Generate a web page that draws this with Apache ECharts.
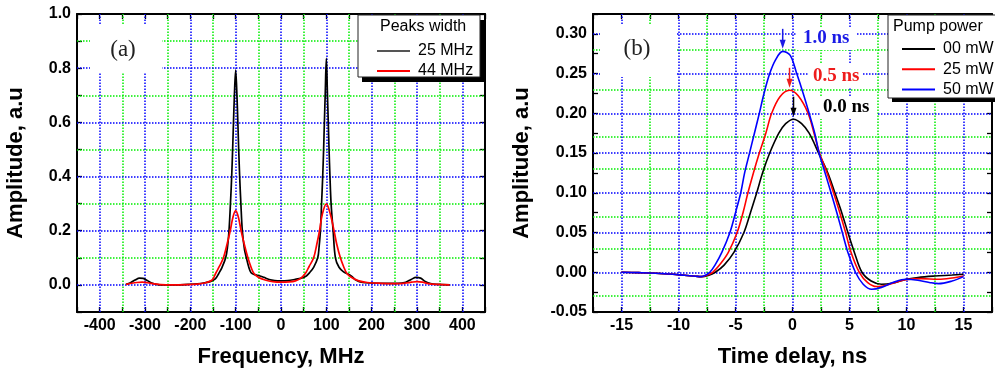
<!DOCTYPE html>
<html><head><meta charset="utf-8">
<script src="https://cdn.jsdelivr.net/npm/echarts@6/dist/echarts.min.js"></script>
<style>html,body{margin:0;padding:0;background:#fff}#c{width:995px;height:374px}</style>
</head><body><div id="c"></div>
<script>
// ---------- Data ----------
// Panel (a): Frequency (MHz) vs Amplitude
const peaksNames = ['25 MHz', '44 MHz'];
const spec25 = [[-342,0.002],[-332,0.008],[-322,0.018],[-312,0.025],[-304,0.024],[-295,0.016],[-285,0.007],[-275,0.002],[-260,0.0],[-230,0.0],[-205,0.002],[-185,0.004],[-168,0.008],[-155,0.013],[-145,0.022],[-137,0.043],[-130,0.065],[-122,0.1],[-118,0.14],[-114.7,0.2],[-111.5,0.3],[-108.8,0.4],[-106.7,0.5],[-104.8,0.6],[-102.8,0.7],[-100,0.793],[-97.2,0.7],[-95.2,0.6],[-93.3,0.5],[-91.2,0.4],[-88.5,0.3],[-85.3,0.2],[-80.5,0.13],[-76.4,0.1],[-71,0.065],[-66,0.045],[-58,0.038],[-48,0.034],[-38,0.028],[-26,0.02],[-14,0.016],[0,0.015],[15,0.016],[30,0.02],[45,0.025],[55,0.032],[63,0.045],[72,0.065],[81,0.1],[84,0.14],[87,0.2],[89.5,0.3],[92,0.4],[94,0.5],[95.7,0.6],[97.5,0.7],[100,0.836],[102.5,0.7],[104.3,0.6],[106,0.5],[108,0.4],[110.5,0.3],[115,0.2],[120,0.1],[128,0.065],[138,0.048],[148,0.04],[157,0.03],[166,0.017],[180,0.009],[200,0.007],[230,0.006],[258,0.006],[275,0.01],[287,0.02],[298,0.028],[308,0.025],[318,0.013],[330,0.005],[345,0.002],[372,0.0]];
const spec44 = [[-342,0.002],[-330,0.006],[-318,0.009],[-306,0.01],[-294,0.008],[-280,0.004],[-265,0.001],[-240,0.0],[-210,0.001],[-185,0.003],[-168,0.007],[-156,0.014],[-150,0.022],[-144,0.043],[-136,0.068],[-127,0.1],[-119,0.15],[-112,0.2],[-106,0.25],[-100,0.274],[-94,0.25],[-88,0.2],[-81,0.15],[-73,0.1],[-66,0.065],[-60,0.043],[-50,0.028],[-35,0.018],[-18,0.012],[0,0.01],[18,0.011],[32,0.015],[44,0.025],[54,0.043],[62,0.068],[72,0.1],[79,0.15],[85,0.2],[91,0.26],[100,0.299],[109,0.26],[117,0.2],[123,0.15],[131,0.1],[138,0.068],[145,0.043],[155,0.028],[170,0.016],[190,0.009],[220,0.006],[255,0.005],[275,0.007],[288,0.01],[300,0.012],[312,0.01],[325,0.005],[345,0.002],[372,0.0]];

// Panel (b): Time delay (ns) vs Amplitude
const pumpNames = ['00 mW', '25 mW', '50 mW'];
const pulse00 = [[-15,0],[-13.5,-0.0005],[-12,-0.0012],[-10.5,-0.0025],[-9.5,-0.0038],[-8.5,-0.005],[-8,-0.0055],[-7.4,-0.004],[-6.77,0.0],[-6.0,0.009],[-5.14,0.025],[-4.26,0.05],[-3.69,0.075],[-3.14,0.10],[-2.63,0.125],[-2.0,0.15],[-1.2,0.175],[-0.6,0.187],[0.09,0.1926],[0.8,0.187],[1.46,0.175],[2.29,0.15],[3.1,0.125],[3.72,0.10],[4.32,0.075],[4.86,0.05],[5.43,0.025],[6.09,0.0],[6.9,-0.011],[7.8,-0.015],[8.8,-0.0135],[9.9,-0.009],[11,-0.0065],[12.5,-0.0047],[14,-0.0035],[15,-0.0025]];
const pulse25 = [[-15,0],[-13.5,-0.0005],[-12,-0.0012],[-10.5,-0.0025],[-9.5,-0.0038],[-8.5,-0.005],[-8,-0.0055],[-7.5,-0.0035],[-7.0,0.0],[-6.3,0.011],[-5.63,0.025],[-4.86,0.05],[-4.34,0.075],[-3.91,0.10],[-3.43,0.125],[-2.91,0.15],[-2.34,0.175],[-1.83,0.20],[-1.1,0.221],[-0.26,0.229],[0.5,0.222],[1.37,0.20],[1.89,0.175],[2.37,0.15],[3.03,0.125],[3.6,0.10],[4.15,0.075],[4.66,0.05],[5.14,0.025],[5.86,0.0],[6.6,-0.013],[7.37,-0.018],[8.3,-0.016],[9.9,-0.0095],[11.3,-0.008],[12.8,-0.0088],[14,-0.0072],[15,-0.0047]];
const pulse50 = [[-15,0],[-13.5,-0.0005],[-12,-0.0012],[-10.5,-0.0025],[-9.5,-0.0038],[-8.5,-0.005],[-8,-0.0055],[-7.6,-0.0035],[-7.25,0.0],[-6.8,0.009],[-6.2,0.025],[-5.49,0.05],[-5.0,0.075],[-4.54,0.10],[-4.2,0.125],[-3.77,0.15],[-3.34,0.175],[-2.91,0.20],[-2.5,0.225],[-2.0,0.25],[-1.5,0.267],[-0.86,0.278],[-0.2,0.273],[0.37,0.25],[0.94,0.225],[1.46,0.20],[1.95,0.175],[2.33,0.15],[2.86,0.125],[3.38,0.10],[3.89,0.075],[4.37,0.05],[4.86,0.025],[5.52,0.0],[6.2,-0.015],[6.95,-0.0214],[7.8,-0.019],[8.8,-0.013],[9.94,-0.0088],[11,-0.010],[12,-0.0128],[12.8,-0.0143],[14,-0.011],[15,-0.0055]];

// Peak-shift annotations in panel (b)
const shiftLabels = ['1.0 ns', '0.5 ns', '0.0 ns'];
const shiftPeakT = [-0.86, -0.26, 0.09];
const shiftPeakA = [0.278, 0.229, 0.1926];

// Grid-line positions (major = blue, minor = green), axis values
function steps(a, b, s) { const r = []; for (let k = 0; a + k * s <= b + 1e-9; k++) r.push(+(a + k * s).toFixed(4)); return r; }
const gridAXMajor = steps(-400, 400, 100), gridAXMinor = steps(-350, 350, 100);
const gridAYMajor = steps(0, 0.8, 0.2), gridAYMinor = steps(0.1, 0.9, 0.2);
const gridBXMajor = steps(-15, 15, 5), gridBXMinor = steps(-12.5, 12.5, 5);
const gridBYMajor = steps(0, 0.30, 0.05), gridBYMinor = steps(-0.025, 0.275, 0.05);

// ---------- Styling ----------
const SANS = '"Liberation Sans", Arial, sans-serif';
const SERIF = '"Liberation Serif", "Times New Roman", serif';
const GREEN = '#00ee00', BLUE = '#0000ff';

function baseAxis(gridIndex, min, max, interval, position, labelFn, extra) {
  const ax = {
    type: 'value', gridIndex, min, max, interval, position,
    axisLine: { show: true, onZero: false, lineStyle: { color: '#000', width: 2 } },
    axisTick: { show: true, inside: true, length: 5, lineStyle: { color: '#000', width: 1.3 } },
    axisLabel: labelFn ? { show: true, formatter: labelFn, fontFamily: SANS, fontWeight: 'bold', fontSize: 16, color: '#000', margin: 6, showMinLabel: true, showMaxLabel: true, hideOverlap: false } : { show: false },
    splitLine: { show: false }
  };
  return Object.assign(ax, extra || {});
}
const nameStyle = { fontFamily: SANS, fontWeight: 'bold', fontSize: 22, color: '#000' };

const fmtFreq = v => (Math.round(v) % 100 === 0 ? String(Math.round(v)) : '');
const fmtAmpA = v => { const n = Math.round(v * 10); return (n % 2 === 0 && n >= 0) ? (n / 10).toFixed(1) : ''; };
const fmtTime = v => { const n = Math.round(v * 2); return (n % 10 === 0) ? String(n / 2) : ''; };
const fmtAmpB = v => { const n = Math.round(v * 40); return (n % 2 === 0) ? (n / 40).toFixed(2) : ''; };

const chart = echarts.init(document.getElementById('c'), null, { renderer: 'canvas' });

const lineSeries = (name, data, color, xi, yi, w) => ({
  name, type: 'line', data, xAxisIndex: xi, yAxisIndex: yi,
  showSymbol: false, symbol: 'none', smooth: 0.35, color,
  itemStyle: { color }, lineStyle: { color, width: w }, z: 3, silent: true
});
const gridSeries = (xi, yi, xs, ys, color) => ({
  type: 'line', data: [], xAxisIndex: xi, yAxisIndex: yi, z: 1, silent: true, color,
  itemStyle: { color },
  markLine: {
    z: 1, zlevel: 0,
    silent: true, animation: false, symbol: ['none', 'none'], label: { show: false },
    itemStyle: { color },
    lineStyle: { color, type: [1.5, 1.5], width: 1.5, opacity: 1 },
    emphasis: { disabled: true },
    data: xs.map(v => ({ xAxis: v, lineStyle: { color } })).concat(ys.map(v => ({ yAxis: v, lineStyle: { color } })))
  }
});

const option = {
  animation: false,
  backgroundColor: '#fff',
  grid: [
    { left: 77, top: 14, width: 408, height: 298 },
    { left: 593, top: 14, width: 408, height: 298 }
  ],
  xAxis: [
    baseAxis(0, -450, 450, 50, 'bottom', fmtFreq, { name: 'Frequency, MHz', nameLocation: 'middle', nameGap: 34, nameTextStyle: nameStyle }),
    baseAxis(0, -450, 450, 50, 'top', null),
    baseAxis(1, -17.5, 17.5, 2.5, 'bottom', fmtTime, { name: 'Time delay, ns', nameLocation: 'middle', nameGap: 34, nameTextStyle: nameStyle }),
    baseAxis(1, -17.5, 17.5, 2.5, 'top', null)
  ],
  yAxis: [
    baseAxis(0, -0.1, 1.0, 0.1, 'left', fmtAmpA, { name: 'Amplitude, a.u', nameLocation: 'middle', nameGap: 50, nameTextStyle: nameStyle }),
    baseAxis(0, -0.1, 1.0, 0.1, 'right', null),
    baseAxis(1, -0.05, 0.325, 0.025, 'left', fmtAmpB, { name: 'Amplitude, a.u', nameLocation: 'middle', nameGap: 60, nameTextStyle: nameStyle }),
    baseAxis(1, -0.05, 0.325, 0.025, 'right', null)
  ],
  legend: [
    { data: [{ name: peaksNames[0], itemStyle: { color: '#555' } }, peaksNames[1]], orient: 'vertical', left: 372, top: 38, itemWidth: 33, itemHeight: 2, icon: 'rect', itemGap: 4, selectedMode: false, z: 8,
      textStyle: { fontFamily: SANS, fontSize: 16, color: '#000', lineHeight: 16, padding: [0, 0, 0, 3] } },
    { data: pumpNames, orient: 'vertical', left: 897, top: 36, itemWidth: 33, itemHeight: 2, icon: 'rect', itemGap: 4.3, selectedMode: false, z: 8,
      textStyle: { fontFamily: SANS, fontSize: 16, color: '#000', lineHeight: 16, padding: [0, 0, 0, 3] } }
  ],
  series: [
    gridSeries(0, 0, gridAXMinor, gridAYMinor, GREEN),
    gridSeries(0, 0, gridAXMajor, gridAYMajor, BLUE),
    gridSeries(2, 2, gridBXMinor, gridBYMinor, GREEN),
    gridSeries(2, 2, gridBXMajor, gridBYMajor, BLUE),
    lineSeries(peaksNames[0], spec25, '#000', 0, 0, 1.7),
    lineSeries(peaksNames[1], spec44, '#ff0000', 0, 0, 1.7),
    lineSeries(pumpNames[0], pulse00, '#000', 2, 2, 1.6),
    lineSeries(pumpNames[1], pulse25, '#ff0000', 2, 2, 1.6),
    lineSeries(pumpNames[2], pulse50, '#0000ff', 2, 2, 1.6)
  ]
};
chart.setOption(option);

// ---------- Decorations (legend boxes, panel labels, arrows) ----------
const g = [];
function rect(x, y, w, h, fill, stroke, z) {
  g.push({ type: 'rect', shape: { x, y, width: w, height: h }, style: { fill, stroke: stroke || null, lineWidth: stroke ? 1 : 0 }, z, silent: true });
}
function text(x, y, str, font, color, align, z) {
  g.push({ type: 'text', x, y, style: { text: str, font, fill: color, align: align || 'left', verticalAlign: 'middle' }, z: z || 7, silent: true });
}
// legend (a)
rect(362, 20, 122, 62, '#000', null, 5);
rect(358, 15, 122, 62, '#fff', '#222', 6);
text(380, 27, 'Peaks width', '16px ' + SANS, '#000');
// legend (b)
rect(892, 20, 120, 82, '#000', null, 5);
rect(888, 15, 120, 83, '#fff', '#222', 6);
text(893, 27, 'Pump power', '16px ' + SANS, '#000');
// panel labels
rect(90, 25, 72, 48, '#fff', null, 2);
text(123, 50, '(a)', '23px ' + SERIF, '#222', 'center');
rect(600, 25, 76, 52, '#fff', null, 2);
text(637, 49, '(b)', '23px ' + SERIF, '#222', 'center');
// shift annotations
const annColors = ['#1a1ae6', '#ee1c1c', '#000'];
const annBoxes = [[797, 27, 60, 23], [808, 64, 54, 24], [820, 96, 57, 23]];
const annText = [[803, 38], [813, 76], [823, 107]];
for (let i = 0; i < shiftLabels.length; i++) {
  const b = annBoxes[i];
  rect(b[0], b[1], b[2], b[3], '#fff', null, 2);
  text(annText[i][0], annText[i][1], shiftLabels[i], 'bold 19px ' + SERIF, annColors[i]);
  const p = chart.convertToPixel({ seriesIndex: 6 }, [shiftPeakT[i], shiftPeakA[i]]);
  const tipY = p[1] - 2.5, x = p[0];
  g.push({ type: 'line', shape: { x1: x, y1: tipY - 20, x2: x, y2: tipY - 6 }, style: { stroke: annColors[i], lineWidth: 1.5 }, z: 7, silent: true });
  g.push({ type: 'polygon', shape: { points: [[x - 3, tipY - 9], [x + 3, tipY - 9], [x, tipY]] }, style: { fill: annColors[i] }, z: 7, silent: true });
}
chart.setOption({ graphic: g });
</script>
</body></html>
